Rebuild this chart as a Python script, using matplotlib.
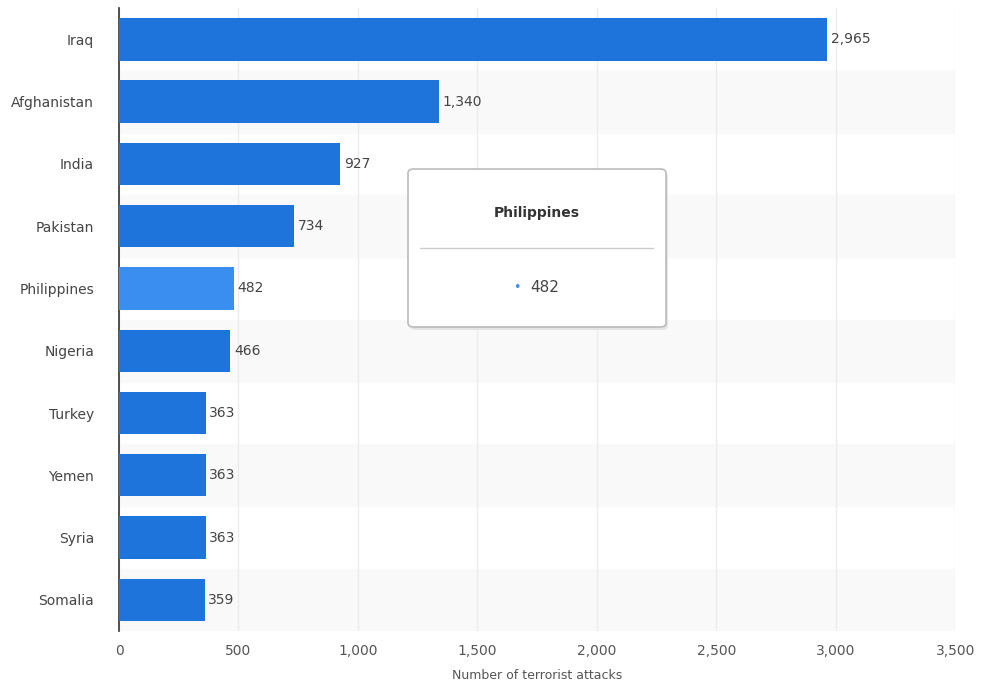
#!/usr/bin/env python3
# -*- coding: utf-8 -*-

import matplotlib.pyplot as plt
from matplotlib.patches import FancyBboxPatch

countries = ["Iraq", "Afghanistan", "India", "Pakistan", "Philippines",
             "Nigeria", "Turkey", "Yemen", "Syria", "Somalia"]
attacks = [2965, 1340, 927, 734, 482, 466, 363, 363, 363, 359]
highlight = "Philippines"
x_ticks = [0, 500, 1000, 1500, 2000, 2500, 3000, 3500]


def main():
    fig = plt.figure(figsize=(9.86, 6.87), dpi=100)
    ax = fig.add_axes([0.1207, 0.0815, 0.848, 0.9065])

    n = len(countries)
    y = list(range(n))
    # alternating row bands
    for i in y:
        if i % 2 == 1:
            ax.axhspan(i - 0.5, i + 0.5, color="#f9f9f9", zorder=0)

    colors = ["#3a8eef" if c == highlight else "#1f74dc" for c in countries]
    ax.barh(y, attacks, height=0.68, color=colors, zorder=3)
    for yi, v in zip(y, attacks):
        ax.text(v + 15, yi, f"{v:,}", va="center", ha="left",
                fontsize=10, color="#444444", zorder=4)

    ax.set_xlim(0, 3500)
    ax.set_ylim(n - 0.5, -0.5)
    ax.set_yticks(y)
    ax.set_yticklabels(countries, fontsize=10, color="#444444")
    ax.set_xticks(x_ticks)
    ax.set_xticklabels([f"{t:,}" for t in x_ticks], fontsize=10, color="#555555")
    ax.tick_params(length=0, pad=9)
    ax.tick_params(axis="y", pad=18)
    ax.grid(axis="x", color="#ececec", linewidth=1, zorder=1)
    ax.set_axisbelow(True)
    for s in ["top", "right", "bottom"]:
        ax.spines[s].set_visible(False)
    ax.spines["left"].set_color("#333333")
    ax.spines["left"].set_linewidth(1.2)
    ax.set_xlabel("Number of terrorist attacks", fontsize=9, color="#555555",
                  labelpad=8)

    # tooltip box with a soft shadow
    shadow = FancyBboxPatch((410 / 986, 1 - 330 / 687), 258 / 986, 158 / 687,
                            boxstyle="round,pad=0,rounding_size=0.006",
                            transform=fig.transFigure, facecolor="#e4e4e4",
                            edgecolor="none", zorder=9)
    fig.patches.append(shadow)
    box = FancyBboxPatch((408 / 986, 1 - 327 / 687), 258 / 986, 158 / 687,
                         boxstyle="round,pad=0,rounding_size=0.006",
                         transform=fig.transFigure, facecolor="white",
                         edgecolor="#bbbbbb", linewidth=1.2, zorder=10)
    fig.patches.append(box)
    fig.text(537 / 986, 1 - 213 / 687, highlight, ha="center", va="center",
             fontsize=10, fontweight="bold", color="#333333", zorder=11)
    fig.add_artist(plt.Line2D([420 / 986, 653 / 986], [1 - 248 / 687, 1 - 248 / 687],
                              color="#cccccc", linewidth=1,
                              transform=fig.transFigure, zorder=11))
    fig.text(517 / 986, 1 - 287 / 687, "•", ha="center", va="center",
             fontsize=9, color="#3a8eef", zorder=11)
    fig.text(530 / 986, 1 - 287 / 687, f"{attacks[countries.index(highlight)]}",
             ha="left", va="center", fontsize=11, color="#444444", zorder=11)

    fig.savefig("out.png", dpi=100)


if __name__ == "__main__":
    main()
